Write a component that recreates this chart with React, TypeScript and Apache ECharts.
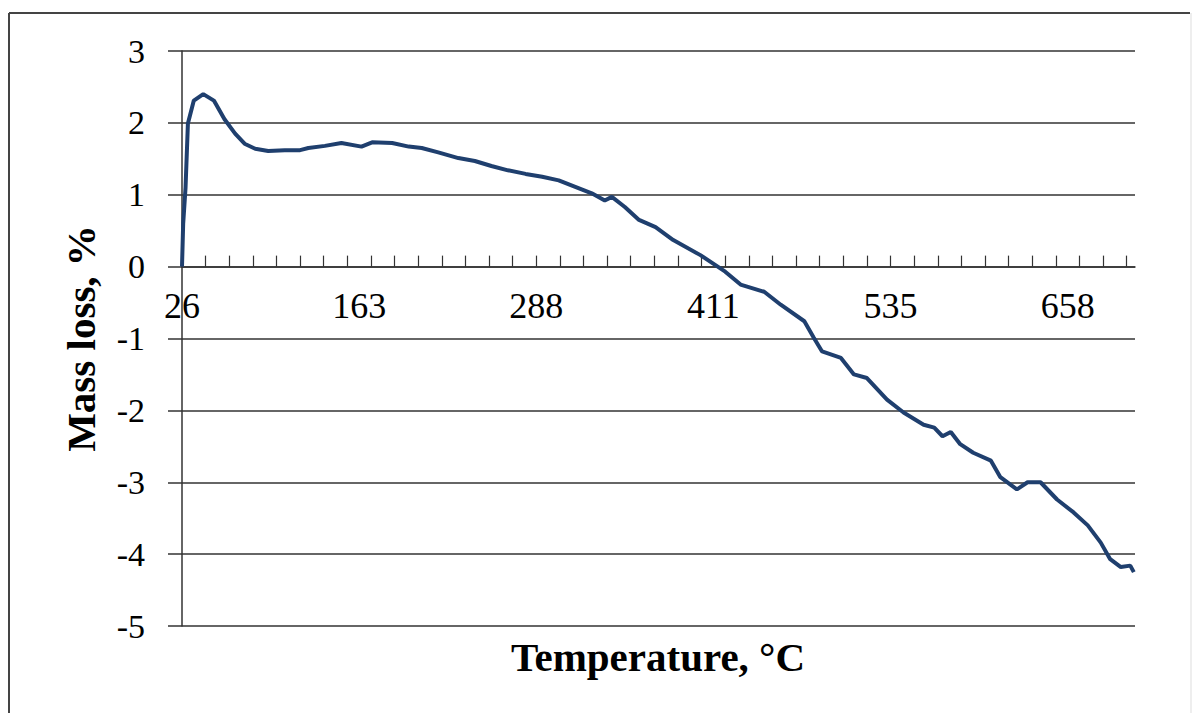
import React, { useEffect, useRef } from 'react';
import * as echarts from 'echarts';

// Sample index (position of each reading along the category axis)
const sampleIndex = [
  0, 1, 3, 5, 10, 18, 27, 36, 45, 53, 62, 73, 87, 100, 107, 121, 135, 152, 161, 178,
  192, 203, 217, 234, 248, 262, 276, 291, 305, 319, 333, 347, 358, 364, 375, 387, 401, 416,
  439, 460, 473, 493, 507, 527, 535, 542, 558, 569, 580, 597, 611, 628, 637, 644, 651, 659,
  670, 685, 693, 707, 716, 727, 741, 755, 767, 778, 786, 795, 803, 806,
];

// Mass loss, %
const massLoss = [
  0.0, 0.6, 1.1, 1.99, 2.31, 2.4, 2.31, 2.05, 1.85, 1.71, 1.64, 1.61, 1.62, 1.62, 1.65, 1.68, 1.72, 1.67, 1.73, 1.72,
  1.67, 1.65, 1.59, 1.51, 1.47, 1.4, 1.34, 1.29, 1.25, 1.2, 1.11, 1.02, 0.92, 0.97, 0.83, 0.65, 0.55, 0.37,
  0.16, -0.07, -0.25, -0.35, -0.53, -0.76, -0.99, -1.18, -1.27, -1.5, -1.55, -1.85, -2.03, -2.2, -2.24, -2.36, -2.3, -2.47,
  -2.59, -2.7, -2.93, -3.1, -3.0, -3.0, -3.24, -3.42, -3.6, -3.84, -4.07, -4.18, -4.16, -4.25,
];

// Temperature labels (°C) shown on the category axis, and where they sit
const tempLabels = ['26', '163', '288', '411', '535', '658'];
const tempLabelPositions = [0, 150, 300, 450, 600, 750];

// Minor tick marks on the category axis
const tickPositions = [
  0, 20, 40, 60, 80, 100, 120, 140, 160, 180, 200, 220, 240, 260, 280, 300, 320, 340, 360, 380,
  400, 420, 440, 460, 480, 500, 520, 540, 560, 580, 600, 620, 640, 660, 680, 700, 720, 740, 760, 780, 800,
];

const xMax = 807;
const yMin = -5;
const yMax = 3;

const gridTop = 51;
const gridBottom = 87;
const chartHeight = 713;

export default function App() {
  const ref = useRef<HTMLDivElement>(null);

  useEffect(() => {
    document.body.style.margin = '0';
    if (!ref.current) return;
    const chart = echarts.init(ref.current, null, { renderer: 'svg' });
    const font = '"Liberation Serif", "Times New Roman", serif';
    const data = sampleIndex.map((x, i) => [x, massLoss[i]]);

    // move the category axis (line, ticks and labels) up to where the value is zero
    const plotHeight = chartHeight - gridTop - gridBottom;
    const zeroOffset = -(plotHeight * (0 - yMin)) / (yMax - yMin);

    chart.setOption({
      animation: false,
      backgroundColor: '#ffffff',
      grid: { left: 182, right: 62, top: gridTop, bottom: gridBottom, containLabel: false },
      xAxis: {
        type: 'value',
        min: 0,
        max: xMax,
        interval: 20,
        offset: zeroOffset,
        axisLine: { show: true, onZero: false, lineStyle: { color: '#333', width: 1.5 } },
        axisTick: {
          show: true,
          inside: true,
          length: 11,
          customValues: tickPositions,
          lineStyle: { color: '#333', width: 1.2 },
        },
        axisLabel: {
          customValues: tempLabelPositions,
          formatter: (v: number) => {
            const i = tempLabelPositions.indexOf(v);
            return i >= 0 ? tempLabels[i] : '';
          },
          color: '#000',
          fontFamily: font,
          fontSize: 36,
          margin: 21,
        },
        splitLine: { show: false },
      },
      yAxis: {
        type: 'value',
        min: yMin,
        max: yMax,
        interval: 1,
        name: 'Mass loss, %',
        nameLocation: 'middle',
        nameRotate: 90,
        nameGap: 81,
        nameTextStyle: { color: '#000', fontFamily: font, fontSize: 41, fontWeight: 'bold' },
        axisLine: { show: true, lineStyle: { color: '#333', width: 1.5 } },
        axisTick: { show: true, inside: false, length: 14, lineStyle: { color: '#333', width: 1.5 } },
        axisLabel: { color: '#000', fontFamily: font, fontSize: 34, margin: 37 },
        splitLine: { show: true, lineStyle: { color: '#333', width: 1.5 } },
      },
      graphic: [
        {
          type: 'line',
          shape: { x1: 9, y1: 13, x2: 1190, y2: 13 },
          style: { stroke: '#444', lineWidth: 2 },
          silent: true,
        },
        {
          type: 'line',
          shape: { x1: 9, y1: 13, x2: 9, y2: 713 },
          style: { stroke: '#444', lineWidth: 2 },
          silent: true,
        },
        {
          type: 'line',
          shape: { x1: 1191, y1: 13, x2: 1191, y2: 713 },
          style: { stroke: '#dddddd', lineWidth: 1 },
          silent: true,
        },
        {
          type: 'text',
          x: 658,
          y: 657,
          style: {
            text: 'Temperature, °C',
            fill: '#000',
            font: 'bold 41px "Liberation Serif", "Times New Roman", serif',
            align: 'center',
            verticalAlign: 'middle',
          },
        },
      ],
      series: [
        {
          type: 'line',
          data,
          showSymbol: false,
          symbol: 'none',
          smooth: false,
          lineStyle: { color: '#1f3f6e', width: 4 },
          itemStyle: { color: '#1f3f6e' },
        },
      ],
    });

    return () => chart.dispose();
  }, []);

  return <div ref={ref} style={{ width: 1197, height: 713 }} />;
}
